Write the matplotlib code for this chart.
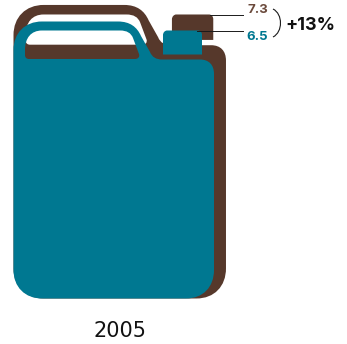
import numpy as np
import matplotlib
matplotlib.use("Agg")
import matplotlib.pyplot as plt
from matplotlib.path import Path
from matplotlib.patches import PathPatch

year = "2005"
value_labels = ["7.3", "6.5"]
values = [7.3, 6.5]
change = "+13%"

brown = "#56382b"
teal = "#007891"

M, L, C, Z = Path.MOVETO, Path.LINETO, Path.CURVE4, Path.CLOSEPOLY

# can outline drawn for the smaller value, in pixels
body = [
    (M, (13.5, 270)),
    (L, (13.5, 50)), (C, (13.5, 33)), (C, (25, 21.5)), (C, (42, 21.5)),
    (L, (118, 21.5)), (C, (130, 21.5)), (C, (137, 27)), (C, (141, 36)),
    (L, (150, 52)), (C, (152, 57)), (C, (156, 59.5)), (C, (162, 59.5)),
    (L, (200, 59.5)), (C, (209, 59.5)), (C, (214, 65)), (C, (214, 74)),
    (L, (214, 270)), (C, (214, 287)), (C, (203, 298.5)), (C, (186, 298.5)),
    (L, (42, 298.5)), (C, (25, 298.5)), (C, (13.5, 287)), (C, (13.5, 270)),
    (Z, (13.5, 270)),
]
# runs the other way round so it stays open
hole = [
    (M, (25, 50)),
    (L, (25, 55)), (C, (25, 57.5)), (C, (26.5, 59)), (C, (29, 59)),
    (L, (135, 59)), (C, (138, 59)), (C, (140, 57)), (C, (139, 54)),
    (L, (133, 38)), (C, (131, 33)), (C, (127, 30.5)), (C, (120, 30.5)),
    (L, (42, 30.5)), (C, (31, 30.5)), (C, (25, 38)), (C, (25, 50)),
    (Z, (25, 50)),
]
cap = [
    (M, (163, 54.5)),
    (L, (163, 35)), (C, (163, 32.5)), (C, (165, 30.5)), (C, (167, 30.5)),
    (L, (198, 30.5)), (C, (200.5, 30.5)), (C, (202, 32.5)), (C, (202, 35)),
    (L, (202, 54.5)),
    (Z, (163, 54.5)),
]

fig = plt.figure(figsize=(3.47, 3.44), dpi=100)
ax = fig.add_axes([0, 0, 1, 1])
ax.set_xlim(0, 347)
ax.set_ylim(344, 0)
ax.axis("off")


def draw_can(value, color, z):
    # area goes with the value, anchored at the bottom left corner
    s = (value / values[1]) ** 0.5
    parts = body + hole + cap
    codes = [c for c, _ in parts]
    pts = np.array([p for _, p in parts], dtype=float)
    pts[:, 0] = 13.5 + (pts[:, 0] - 13.5) * s
    pts[:, 1] = 298.5 + (pts[:, 1] - 298.5) * s
    ax.add_patch(PathPatch(Path(pts, codes), fc=color, ec="none", zorder=z))


draw_can(values[0], brown, 1)
draw_can(values[1], teal, 2)

# leader lines
ax.plot([210, 243], [14.5, 14.5], color="#1a1a1a", lw=0.7, zorder=3)
ax.plot([197, 243], [30.5, 30.5], color="#1a1a1a", lw=0.7, zorder=3)

# bracket
br = Path([(273, 9), (283, 14), (283, 32), (273, 37)], [M, C, C, C])
ax.add_patch(PathPatch(br, fc="none", ec="#1a1a1a", lw=0.8, zorder=3))

plt.rcParams["font.family"] = ["Inter", "DejaVu Sans"]
ax.text(258, 10, value_labels[0], color="#6b4a3c", fontsize=9.5, fontweight="bold",
        ha="center", va="center")
ax.text(257.5, 37, value_labels[1], color=teal, fontsize=9.5, fontweight="bold",
        ha="center", va="center")
ax.text(310.5, 26, change, color="#111111", fontsize=13, fontweight="bold",
        ha="center", va="center")
ax.text(120, 331, year, color="#111111", fontsize=15, family="DejaVu Sans",
        ha="center", va="center")

fig.savefig("out.png", dpi=100)
